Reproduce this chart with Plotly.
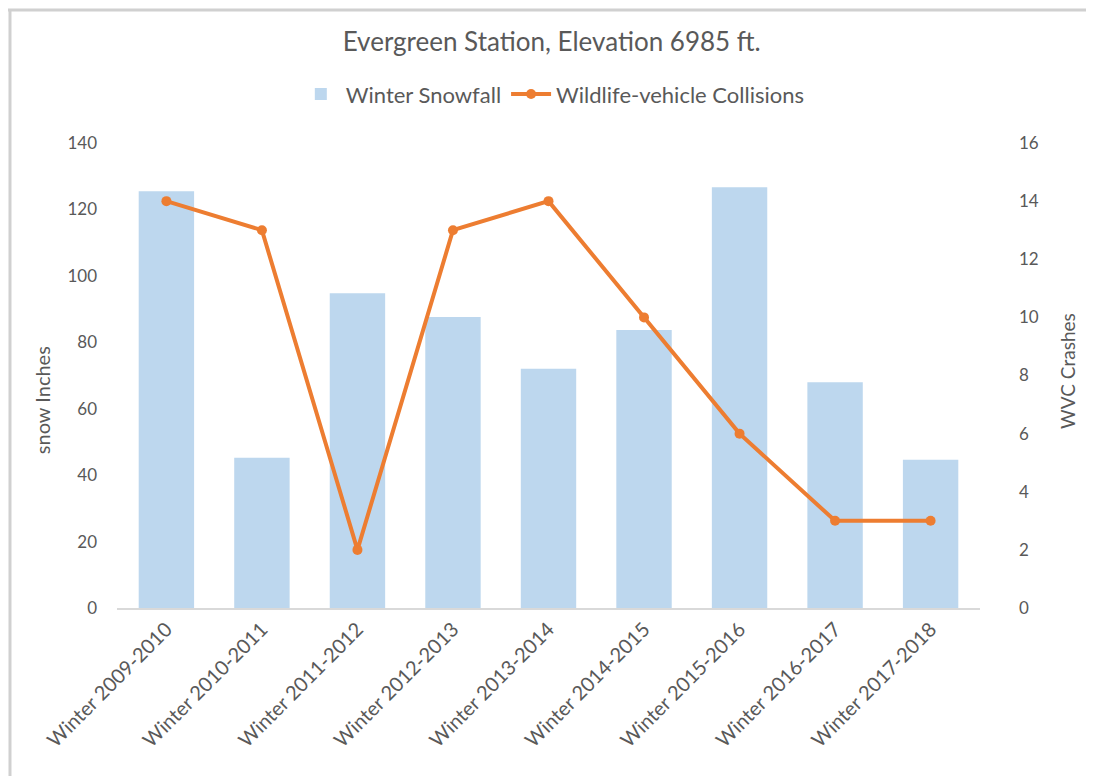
import plotly.graph_objects as go

seasons = ["Winter 2009-2010", "Winter 2010-2011", "Winter 2011-2012", "Winter 2012-2013",
           "Winter 2013-2014", "Winter 2014-2015", "Winter 2015-2016", "Winter 2016-2017",
           "Winter 2017-2018"]
snowfall = [125.5, 45.2, 94.8, 87.6, 72.0, 83.7, 126.7, 68.0, 44.6]
wvc_crashes = [14, 13, 2, 13, 14, 10, 6, 3, 3]
left_ticks = [0, 20, 40, 60, 80, 100, 120, 140]
right_ticks = [0, 2, 4, 6, 8, 10, 12, 14, 16]

FONT = "Lato"
TXT = "#595959"

fig = go.Figure()
fig.add_trace(go.Bar(
    x=seasons, y=snowfall, name="Winter Snowfall",
    marker=dict(color="#BDD7EE", line=dict(width=0)),
    yaxis="y",
))
fig.add_trace(go.Scatter(
    x=seasons, y=wvc_crashes, name="Wildlife-vehicle Collisions",
    mode="lines+markers",
    line=dict(color="#ED7D31", width=4),
    marker=dict(color="#ED7D31", size=10),
    yaxis="y2",
))

fig.update_layout(
    width=1094, height=776,
    paper_bgcolor="white", plot_bgcolor="white",
    margin=dict(l=109, r=122, t=135, b=176),
    font=dict(family=FONT, color=TXT, size=16),
    title=dict(text="Evergreen Station, Elevation 6985 ft.", x=0.497, xanchor="center",
               y=0.956, yanchor="middle", font=dict(size=26, color=TXT, family=FONT)),
    legend=dict(orientation="h", x=0.505, xanchor="center", y=1.105, yanchor="middle",
                font=dict(size=22, color=TXT), traceorder="normal", itemwidth=40),
    bargap=0.42,
    xaxis=dict(showgrid=False, tickangle=-45, tickfont=dict(size=20, color=TXT),
               showline=True, linecolor="#D9D9D9", linewidth=1.5, ticks=""),
    yaxis=dict(range=[0, 140], tickvals=left_ticks, showgrid=False, zeroline=False,
               tickfont=dict(size=17, color=TXT), ticklabelstandoff=19),
    yaxis2=dict(range=[0, 16], tickvals=right_ticks, overlaying="y", side="right",
                showgrid=False, zeroline=False,
                tickfont=dict(size=17, color=TXT), ticklabelstandoff=38),
    annotations=[
        dict(text="snow Inches", xref="paper", yref="paper", x=-0.0869, y=0.447,
             textangle=-90, showarrow=False, xanchor="center", yanchor="middle",
             font=dict(size=20, color=TXT)),
        dict(text="WVC Crashes", xref="paper", yref="paper", x=1.102, y=0.510,
             textangle=-90, showarrow=False, xanchor="center", yanchor="middle",
             font=dict(size=19, color=TXT)),
    ],
    shapes=[
        dict(type="line", xref="paper", yref="paper", x0=-0.2, x1=1.2, y0=1.286, y1=1.286,
             line=dict(color="#D0D0D0", width=3), layer="below"),
        dict(type="line", xref="paper", yref="paper", x0=-0.124, x1=-0.124, y0=-0.5, y1=1.286,
             line=dict(color="#D0D0D0", width=3), layer="below"),
    ],
)

fig.write_html("out.html")
